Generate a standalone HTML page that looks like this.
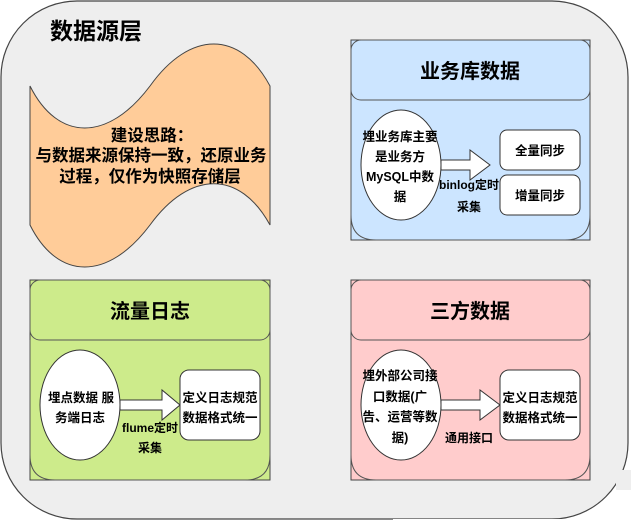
<!DOCTYPE html>
<html><head><meta charset="utf-8"><style>
html,body{margin:0;padding:0;background:#fff;}
svg{display:block;}
text{font-family:"Liberation Sans","Noto Sans CJK SC",sans-serif;font-weight:bold;fill:#000;}
</style></head><body>
<svg width="631" height="521" viewBox="0 0 631 521" xmlns="http://www.w3.org/2000/svg">
<rect x="1" y="1" width="627" height="518" rx="76" ry="76" fill="#eeeeee" stroke="#444" stroke-width="1.2"/>
<rect x="626" y="490" width="5" height="31" fill="#fff"/>
<rect x="393" y="519" width="238" height="2" fill="#fff"/>
<path d="M616,470 L631,470 L631,490 L616,490 Z" fill="#eeeeee"/>
<text x="50" y="39" font-size="23">数据源层</text>

<!-- wave -->
<path d="M30,86 C58,142 108,142 150,86 C190,30 240,30 270,86 L270,225 C240,170 190,170 150,225 C108,281 58,281 30,225 Z" fill="#ffcc99" stroke="#444" stroke-width="1"/>
<g font-size="16.5" text-anchor="middle">
<text x="152" y="141">建设思路：</text>
<text x="151" y="161">与数据来源保持一致，还原业务</text>
<text x="150" y="182">过程，仅作为快照存储层</text>
</g>

<!-- business -->
<rect x="351" y="40" width="239" height="200" fill="#cce5ff" stroke="#444"/>
<rect x="351" y="40" width="239" height="60" rx="10" fill="#cce5ff" stroke="#555"/>
<path d="M351,100 L351,215 Q351,240 376,240 L565,240 Q590,240 590,215 L590,100" fill="none" stroke="#555"/>
<text x="470" y="78" font-size="20" text-anchor="middle">业务库数据</text>
<ellipse cx="401" cy="165" rx="40" ry="55" fill="#fff" stroke="#333"/>
<g font-size="12.5" text-anchor="middle">
<text x="400" y="141">埋业务库主要</text>
<text x="400" y="161">是业务方</text>
<text x="400" y="181">MySQL中数</text>
<text x="400" y="201">据</text>
</g>
<path d="M441,160 L470,160 L470,150 L490,165 L470,180 L470,170 L441,170 Z" fill="#fff" stroke="#333"/>
<g font-size="12" text-anchor="middle">
<text x="469" y="189">binlog定时</text>
<text x="469" y="211">采集</text>
</g>
<rect x="500" y="130" width="80" height="40" rx="7" fill="#fff" stroke="#333"/>
<rect x="500" y="175" width="80" height="40" rx="7" fill="#fff" stroke="#333"/>
<text x="540" y="155" font-size="12.5" text-anchor="middle">全量同步</text>
<text x="540" y="200" font-size="12.5" text-anchor="middle">增量同步</text>

<!-- traffic -->
<rect x="30" y="280" width="240" height="200" fill="#cdeb8b" stroke="#444"/>
<rect x="30" y="280" width="240" height="60" rx="10" fill="#cdeb8b" stroke="#555"/>
<path d="M30,340 L30,455 Q30,480 55,480 L245,480 Q270,480 270,455 L270,340" fill="none" stroke="#555"/>
<text x="150" y="318" font-size="20" text-anchor="middle">流量日志</text>
<ellipse cx="80" cy="405" rx="40" ry="55" fill="#fff" stroke="#333"/>
<g font-size="12.5" text-anchor="middle">
<text x="81" y="402">埋点数据 服</text>
<text x="80" y="422">务端日志</text>
</g>
<path d="M120,400 L162,400 L162,390 L180,405 L162,420 L162,410 L120,410 Z" fill="#fff" stroke="#333"/>
<g font-size="12" text-anchor="middle">
<text x="150" y="432">flume定时</text>
<text x="150" y="452">采集</text>
</g>
<rect x="180" y="370" width="80" height="70" rx="9" fill="#fff" stroke="#333"/>
<g font-size="12.5" text-anchor="middle">
<text x="220" y="402">定义日志规范</text>
<text x="220" y="422">数据格式统一</text>
</g>

<!-- third -->
<rect x="351" y="280" width="239" height="200" fill="#ffcccc" stroke="#444"/>
<rect x="351" y="280" width="239" height="60" rx="10" fill="#ffcccc" stroke="#555"/>
<path d="M351,340 L351,455 Q351,480 376,480 L565,480 Q590,480 590,455 L590,340" fill="none" stroke="#555"/>
<text x="470" y="318" font-size="20" text-anchor="middle">三方数据</text>
<ellipse cx="401" cy="405" rx="40" ry="55" fill="#fff" stroke="#333"/>
<g font-size="12.5" text-anchor="middle">
<text x="400" y="380">埋外部公司接</text>
<text x="400" y="401">口数据(广</text>
<text x="400" y="421">告、运营等数</text>
<text x="400" y="442">据)</text>
</g>
<path d="M441,400 L480,400 L480,390 L500,405 L480,420 L480,410 L441,410 Z" fill="#fff" stroke="#333"/>
<text x="469" y="442" font-size="12" text-anchor="middle">通用接口</text>
<rect x="500" y="370" width="80" height="70" rx="9" fill="#fff" stroke="#333"/>
<g font-size="12.5" text-anchor="middle">
<text x="540" y="402">定义日志规范</text>
<text x="540" y="422">数据格式统一</text>
</g>
</svg>
</body></html>
